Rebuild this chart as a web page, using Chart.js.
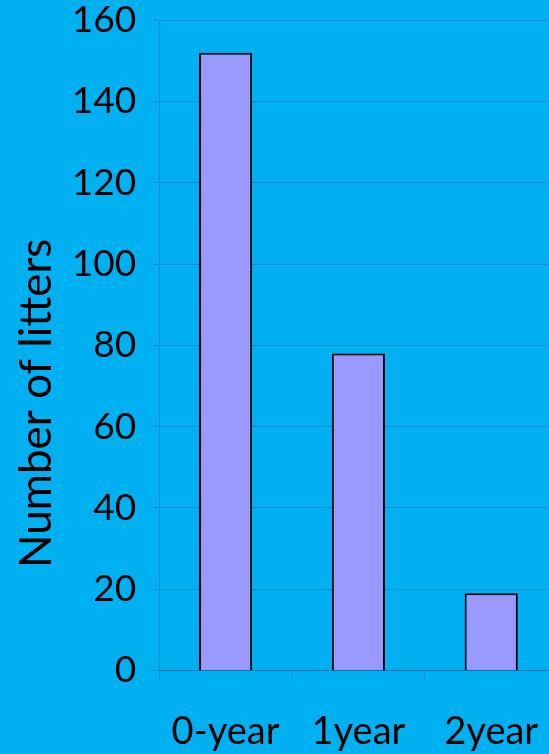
<!DOCTYPE html>
<html>
<head>
<meta charset="utf-8">
<script src="https://cdn.jsdelivr.net/npm/chart.js@4"></script>
<style>
  html, body { margin: 0; padding: 0; background: #00B0F0; overflow: hidden; }
  #wrap { position: absolute; left: 0; top: -20px; width: 569px; height: 805px; }
</style>
</head>
<body>
<div id="wrap"><canvas id="litterChart"></canvas></div>
<script>
/*** Data ***/
const ageLabels = ['0-year', '1year', '2year'];
const litterCounts = [152, 78, 19];
const yTicks = [0, 20, 40, 60, 80, 100, 120, 140, 160];
const yTitle = 'Number of litters';

/*** Styles ***/
const gridColor = 'rgba(0, 70, 120, 0.35)';
const fontFamily = 'Lato, "Open Sans", sans-serif';
Chart.defaults.font.family = fontFamily;
Chart.defaults.color = '#000';

/*** Y title, drawn a bit below the plot centre ***/
const lowTitle = {
    id: 'lowTitle',
    afterDraw(chart) {
        const y = chart.scales.y;
        const c = chart.ctx;
        c.save();
        c.translate(y.left + 51, (chart.chartArea.top + chart.chartArea.bottom) / 2 + 58);
        c.rotate(-Math.PI / 2);
        c.font = '44px ' + fontFamily;
        c.fillStyle = '#000';
        c.textAlign = 'center';
        c.textBaseline = 'alphabetic';
        c.fillText(yTitle, 0, 0);
        c.restore();
    }
};

const ctx = document.getElementById('litterChart');

var litterChart = new Chart(ctx, {
    type: 'bar',
    data: {
        labels: ageLabels,
        datasets: [
            {
                label: 'Litters',
                data: litterCounts,
                backgroundColor: '#9999FF',
                borderColor: '#000',
                borderWidth: 2,
                categoryPercentage: 1,
                barPercentage: 0.4
            }
        ]
    },
    plugins: [lowTitle],
    options: {
        responsive: true,
        maintainAspectRatio: false,
        animation: false,
        layout: {
            padding: { top: 0, right: 5, bottom: 0, left: 0 }
        },
        plugins: {
            legend: { display: false },
            tooltip: { enabled: false }
        },
        scales: {
            x: {
                grid: {
                    drawOnChartArea: false,
                    color: gridColor,
                    tickLength: 9
                },
                border: { color: gridColor },
                ticks: {
                    font: { size: 38 },
                    padding: 30,
                    maxRotation: 0
                }
            },
            y: {
                min: 0,
                max: 160,
                afterBuildTicks: function (axis) {
                    axis.ticks = yTicks.map(v => ({ value: v }));
                },
                grid: {
                    color: gridColor,
                    tickLength: 5
                },
                border: { color: gridColor },
                ticks: {
                    font: { size: 37 },
                    padding: 18
                },
                // keeps the room for the title; the text itself comes from lowTitle
                title: {
                    display: true,
                    text: yTitle,
                    color: 'rgba(0,0,0,0)',
                    font: { size: 44 },
                    padding: { top: 10, bottom: -9 }
                }
            }
        }
    }
});
</script>
</body>
</html>
